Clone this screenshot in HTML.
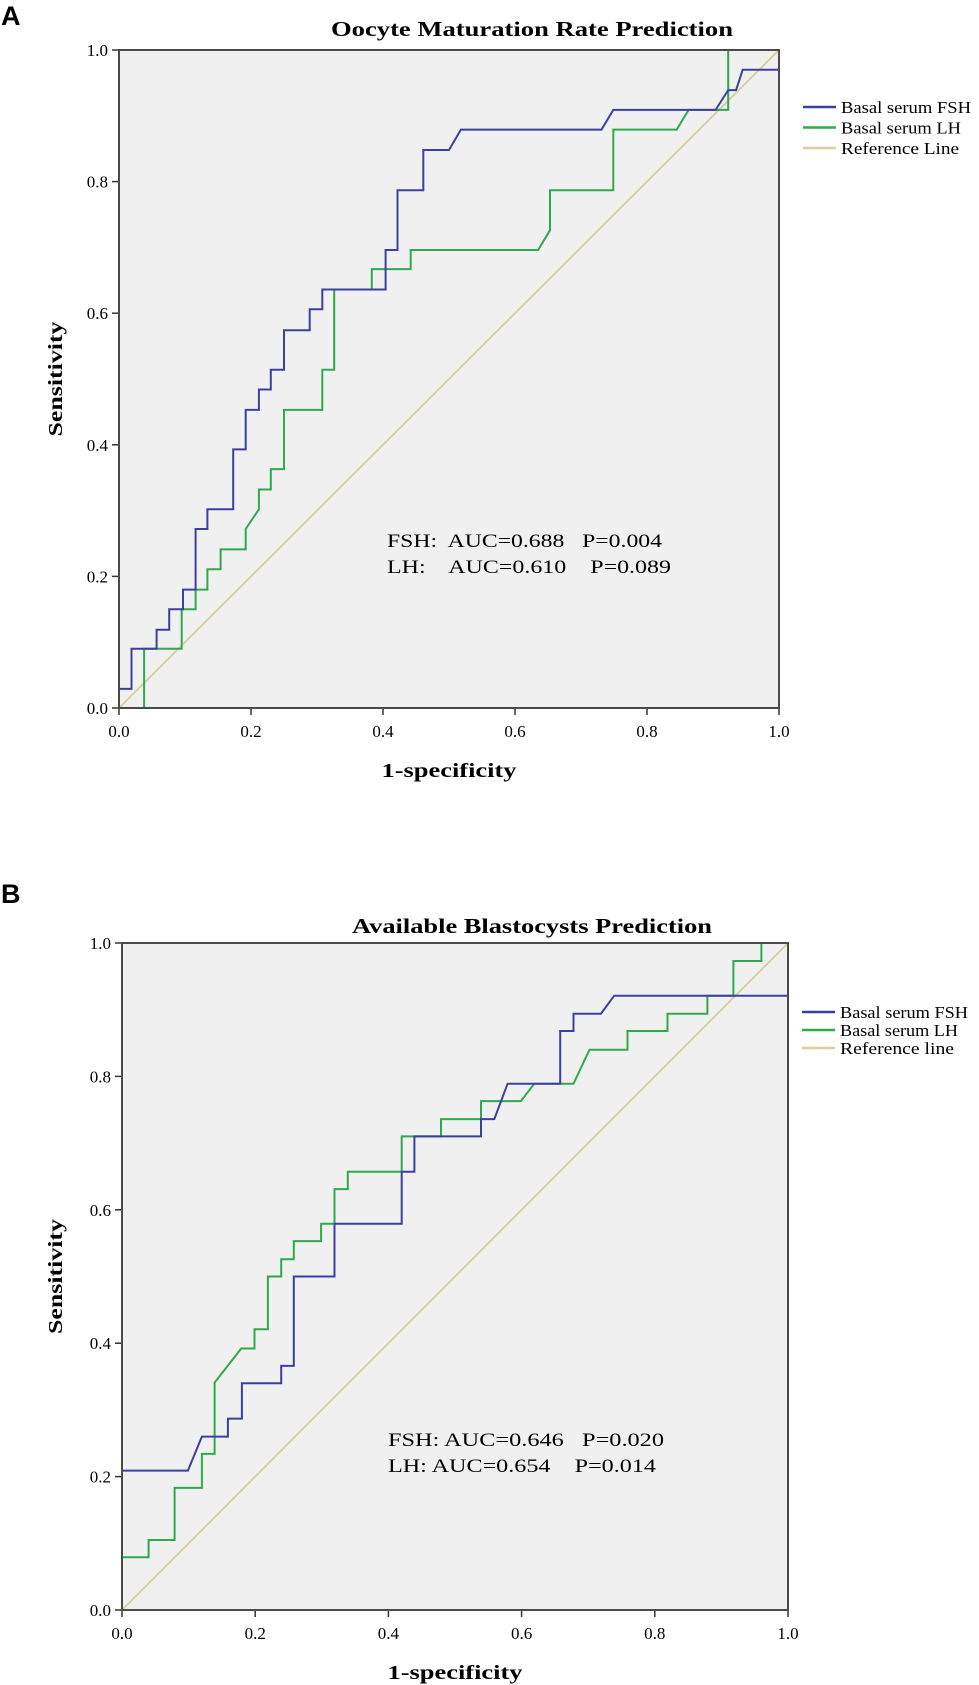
<!DOCTYPE html>
<html><head><meta charset="utf-8"><style>
body{margin:0;background:#fff;width:979px;height:1685px;overflow:hidden}
svg{display:block}
text{font-family:"Liberation Serif",serif}
</style></head><body>
<svg id="s" width="979" height="1685" viewBox="0 0 979 1685" xmlns="http://www.w3.org/2000/svg">
<text x="1" y="25" style="font-family:'Liberation Sans',sans-serif;font-weight:bold;font-size:27px">A</text>
<text x="1" y="903" style="font-family:'Liberation Sans',sans-serif;font-weight:bold;font-size:27px">B</text>
</svg>
<script>
const tickVals=[0,0.2,0.4,0.6,0.8,1.0];
const tickLabels=["0.0","0.2","0.4","0.6","0.8","1.0"];
const aFshX=[0,0,0.019,0.019,0.057,0.057,0.076,0.076,0.097,0.097,0.116,0.116,0.134,0.134,0.173,0.173,0.192,0.192,0.212,0.212,0.230,0.230,0.25,0.25,0.289,0.289,0.308,0.308,0.404,0.404,0.422,0.422,0.461,0.461,0.50,0.518,0.731,0.749,0.904,0.923,0.935,0.945,1,1];
const aFshY=[0,0.029,0.029,0.09,0.09,0.119,0.119,0.15,0.15,0.18,0.18,0.272,0.272,0.302,0.302,0.393,0.393,0.453,0.453,0.484,0.484,0.514,0.514,0.574,0.574,0.606,0.606,0.636,0.636,0.696,0.696,0.787,0.787,0.848,0.848,0.879,0.879,0.909,0.909,0.939,0.939,0.97,0.97,1];
const aLhX=[0.038,0.038,0.095,0.095,0.116,0.116,0.134,0.134,0.154,0.154,0.192,0.192,0.212,0.212,0.230,0.230,0.25,0.25,0.308,0.308,0.326,0.326,0.383,0.383,0.442,0.442,0.635,0.653,0.653,0.749,0.749,0.845,0.863,0.923,0.923,1];
const aLhY=[0,0.09,0.09,0.15,0.15,0.18,0.18,0.211,0.211,0.241,0.241,0.272,0.302,0.332,0.332,0.363,0.363,0.453,0.453,0.514,0.514,0.636,0.636,0.667,0.667,0.696,0.696,0.726,0.787,0.787,0.879,0.879,0.909,0.909,1,1];
const bFshX=[0,0,0.099,0.12,0.159,0.159,0.18,0.18,0.239,0.239,0.258,0.258,0.319,0.319,0.42,0.42,0.439,0.439,0.539,0.539,0.559,0.579,0.658,0.658,0.678,0.678,0.719,0.739,1,1];
const bFshY=[0,0.209,0.209,0.26,0.26,0.287,0.287,0.34,0.34,0.366,0.366,0.50,0.50,0.579,0.579,0.657,0.657,0.71,0.71,0.736,0.736,0.789,0.789,0.868,0.868,0.894,0.894,0.921,0.921,1];
const bLhX=[0,0,0.04,0.04,0.079,0.079,0.12,0.12,0.139,0.139,0.179,0.199,0.199,0.219,0.219,0.239,0.239,0.258,0.258,0.299,0.299,0.319,0.319,0.339,0.339,0.42,0.42,0.479,0.479,0.539,0.539,0.599,0.619,0.678,0.702,0.759,0.759,0.819,0.819,0.879,0.879,0.918,0.918,0.96,0.96,1];
const bLhY=[0,0.079,0.079,0.105,0.105,0.183,0.183,0.234,0.234,0.341,0.392,0.392,0.421,0.421,0.50,0.50,0.526,0.526,0.553,0.553,0.579,0.579,0.631,0.631,0.657,0.657,0.71,0.71,0.736,0.736,0.763,0.763,0.789,0.789,0.84,0.84,0.868,0.868,0.894,0.894,0.921,0.921,0.973,0.973,1,1];
const refX=[0,1], refY=[0,1];
const NS="http://www.w3.org/2000/svg";
const svg=document.getElementById('s');
function mk(tag,attrs,parent){const e=document.createElementNS(NS,tag);for(const k in attrs)e.setAttribute(k,attrs[k]);(parent||svg).appendChild(e);return e;}
function chart(c){
  const sx=v=>c.x0+v*(c.x1-c.x0), sy=v=>c.y0-v*(c.y0-c.y1);
  const g=mk('g',{});
  
  
  const bg=mk('rect',{x:sx(0),y:sy(1),width:sx(1)-sx(0),height:sy(0)-sy(1),fill:'#f0f0f0'},g);
  
  
  tickVals.forEach((v,i)=>{
    mk('line',{x1:sx(0)-7,x2:sx(0),y1:sy(v),y2:sy(v),stroke:'#333','stroke-width':1.5},g);
    const ty=mk('text',{x:sx(0)-11,y:sy(v)+6,'text-anchor':'end','font-size':17},g);ty.textContent=tickLabels[i];
    
    
    mk('line',{x1:sx(v),x2:sx(v),y1:sy(0),y2:sy(0)+7,stroke:'#333','stroke-width':1.5},g);
    const tx=mk('text',{x:sx(v),y:sy(0)+29,'text-anchor':'middle','font-size':17},g);tx.textContent=tickLabels[i];
    
    
  });
  const series=[[refX,refY,'#d8d0a4','reference-line'],[c.lhX,c.lhY,'#2eaa4c','lh-curve'],[c.fshX,c.fshY,'#3c3fa0','fsh-curve']];
  series.forEach(s=>{
    const pts=s[0].map((x,i)=>sx(x).toFixed(1)+','+sy(s[1][i]).toFixed(1)).join(' ');
    const p=mk('polyline',{points:pts,fill:'none',stroke:s[2],'stroke-width':2},g);
    
    
  });
  const fr=mk('rect',{x:sx(0),y:sy(1),width:sx(1)-sx(0),height:sy(0)-sy(1),fill:'none',stroke:'#4a4a4a','stroke-width':2},g);
  
  
  const t=mk('text',{x:c.tx,y:c.ty,'font-size':21,'font-weight':'bold',textLength:c.tw,lengthAdjust:'spacingAndGlyphs'},g);t.textContent=c.title;
  
  
  const yl=mk('text',{x:0,y:0,'text-anchor':'middle','font-size':20,'font-weight':'bold',textLength:115,lengthAdjust:'spacingAndGlyphs',transform:`translate(62,${(sy(0)+sy(1))/2}) rotate(-90)`},g);yl.textContent='Sensitivity';
  
  
  const xl=mk('text',{x:(sx(0)+sx(1))/2,y:sy(0)+69,'text-anchor':'middle','font-size':20,'font-weight':'bold',textLength:135,lengthAdjust:'spacingAndGlyphs'},g);xl.textContent='1-specificity';
  
  
  c.legend.forEach((L,i)=>{
    const y=c.ly+i*c.lstep;
    const ln=mk('line',{x1:c.lx,x2:c.lx+33,y1:y,y2:y,stroke:L[1],'stroke-width':2.5},g);
    
    
    const lt=mk('text',{x:c.lx+38,y:y+6,'font-size':17,textLength:L[2],lengthAdjust:'spacingAndGlyphs'},g);lt.textContent=L[0];
    
    
  });
  c.auc.forEach((s,i)=>{
    const a=mk('text',{x:c.ax,y:c.ay[i],'font-size':19,textLength:c.aw[i],lengthAdjust:'spacingAndGlyphs',style:'white-space:pre'},g);a.textContent=s;
    
    
  });
}
chart({id:'a',x0:119,x1:779,y0:708,y1:50,fshX:aFshX,fshY:aFshY,lhX:aLhX,lhY:aLhY,
  title:'Oocyte Maturation Rate Prediction',tx:331,ty:36,tw:402,
  legend:[['Basal serum FSH','#3c3fa0',130],['Basal serum LH','#2eaa4c',120],['Reference Line','#d8d0a4',118]],lx:803,ly:107,lstep:20.5,
  auc:['FSH:  AUC=0.688   P=0.004','LH:    AUC=0.610    P=0.089'],aw:[275,284],ax:387,ay:547+0*0===547?[547,573]:[547,573]});
chart({id:'b',x0:122,x1:788,y0:1610,y1:943,fshX:bFshX,fshY:bFshY,lhX:bLhX,lhY:bLhY,
  title:'Available Blastocysts Prediction',tx:352,ty:933,tw:360,
  legend:[['Basal serum FSH','#3c3fa0',128],['Basal serum LH','#2eaa4c',118],['Reference line','#d8d0a4',114]],lx:802,ly:1012,lstep:18,
  auc:['FSH: AUC=0.646   P=0.020','LH: AUC=0.654    P=0.014'],aw:[276,268],ax:388,ay:[1446,1472]});
</script>
</body></html>
